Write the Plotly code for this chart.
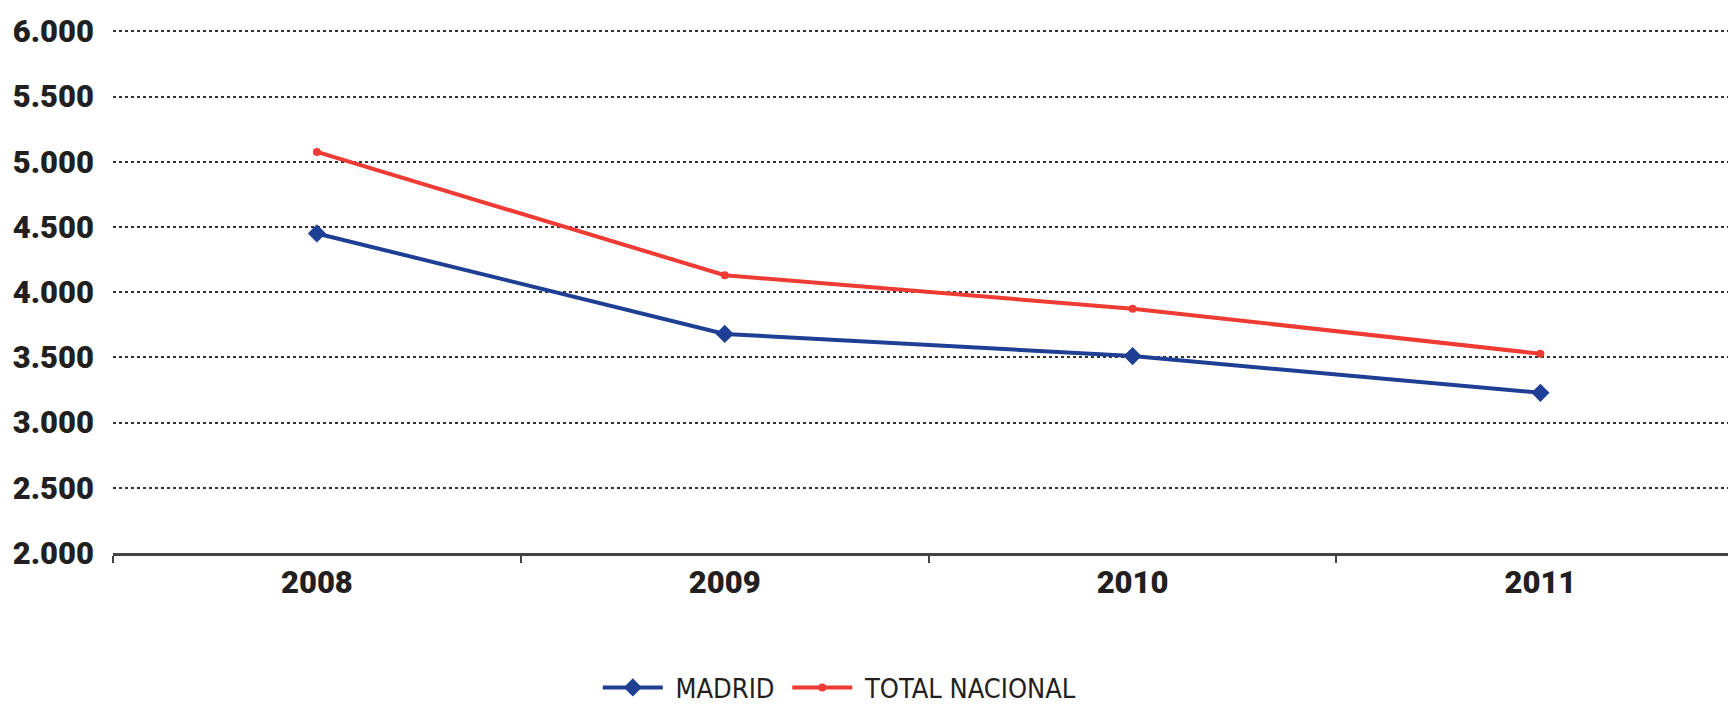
import plotly.graph_objects as go

years = ["2008", "2009", "2010", "2011"]
madrid = [4450, 3680, 3510, 3228]
total_nacional = [5075, 4130, 3873, 3528]
y_ticks = [2000, 2500, 3000, 3500, 4000, 4500, 5000, 5500, 6000]
y_tick_labels = ["2.000", "2.500", "3.000", "3.500", "4.000", "4.500", "5.000", "5.500", "6.000"]

BLUE = "#1e3f94"
RED = "#ee3b33"
TICK_FONT = "Roboto, Liberation Sans, sans-serif"
LEG_FONT = "Liberation Sans Narrow, DejaVu Sans Condensed, sans-serif"

fig = go.Figure()
fig.add_trace(go.Scatter(
    x=years, y=madrid, name="\u00a0MADRID\u00a0", mode="lines+markers",
    line=dict(color=BLUE, width=4),
    marker=dict(symbol="diamond", size=14, color=BLUE),
))
fig.add_trace(go.Scatter(
    x=years, y=total_nacional, name="\u00a0TOTAL NACIONAL", mode="lines+markers",
    line=dict(color=RED, width=4),
    marker=dict(symbol="circle", size=8, color=RED),
))

fig.update_layout(
    width=1728, height=707,
    margin=dict(l=113, r=0, t=30, b=154, autoexpand=False),
    paper_bgcolor="white", plot_bgcolor="white",
    font=dict(family=TICK_FONT, color="#231f20"),
    showlegend=True,
    legend=dict(
        orientation="h", xref="container", yref="container",
        x=0.486, xanchor="center", y=0.027, yanchor="middle",
        font=dict(size=27, family=LEG_FONT, color="#231f20"),
        itemwidth=60, traceorder="normal",
    ),
    xaxis=dict(
        type="category", range=[-0.5, 3.46], automargin=False,
        showgrid=False, showline=True, linecolor="#444", linewidth=2.5,
        ticks="outside", tickson="boundaries", ticklen=7, tickwidth=1.5, tickcolor="#444",
        tickfont=dict(size=31, family=TICK_FONT, weight=900, color="#231f20"),
        fixedrange=True,
    ),
    yaxis=dict(
        range=[2000, 6010], tickvals=y_ticks, ticktext=y_tick_labels, automargin=False,
        showgrid=True, gridcolor="#333", gridwidth=1.5, griddash="dot",
        zeroline=False, showline=False, ticks="",
        ticklabelstandoff=18,
        tickfont=dict(size=31, family=TICK_FONT, weight=900, color="#231f20"),
        fixedrange=True,
    ),
)

fig.write_html(
    "out.html",
    config={"displayModeBar": False},
    post_script="document.body.style.margin='0';document.body.style.overflow='hidden';",
)
